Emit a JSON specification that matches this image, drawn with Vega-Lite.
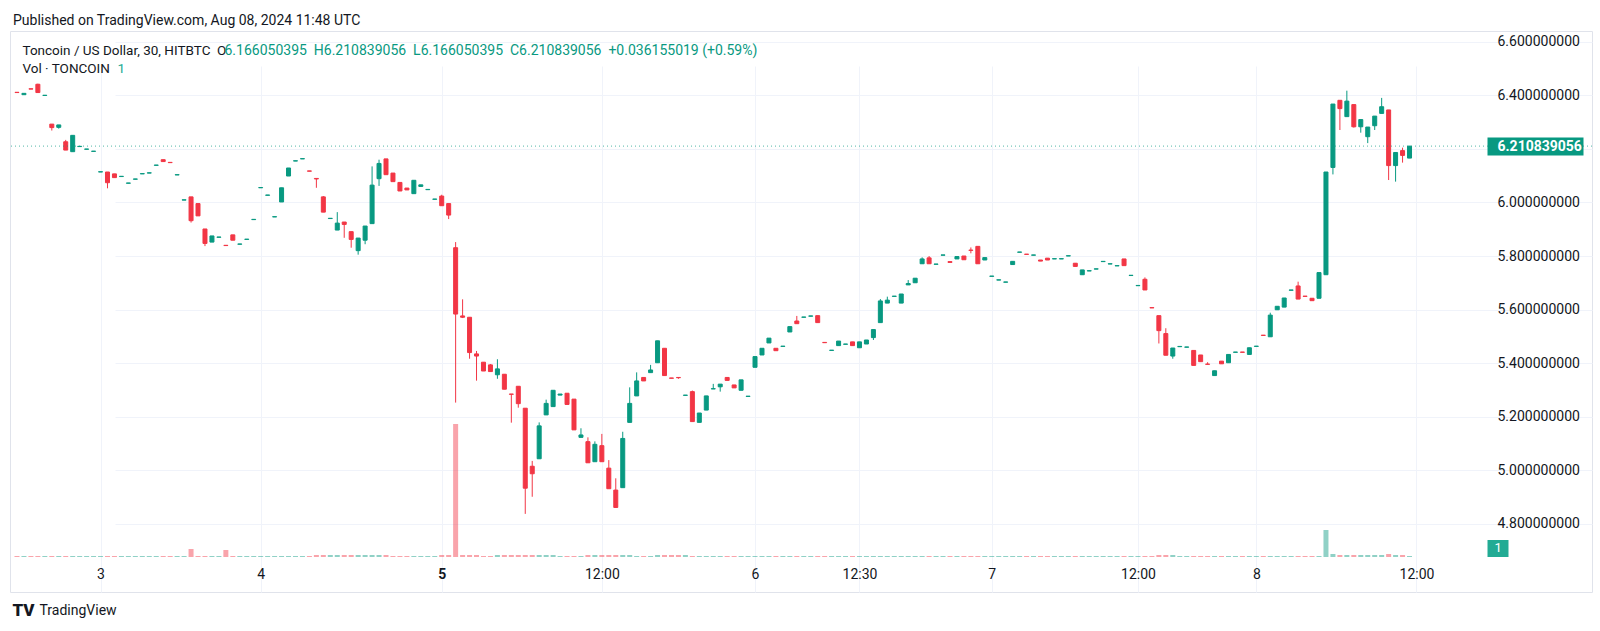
{
"$schema": "https://vega.github.io/schema/vega-lite/v6.json",
"width": 1582, "height": 561,
"autosize": {"type": "none"},
"padding": {"left": 10, "top": 31, "right": 8, "bottom": 39},
"background": "white",
"config": {"view": {"stroke": "#e0e3eb", "strokeWidth": 1}, "font": "Roboto"},
"title": {"text": "Published on TradingView.com, Aug 08, 2024 11:48 UTC", "anchor": "start", "frame": "group", "offset": 8, "dx": 3, "dy": 16, "baseline": "alphabetic", "font": "Roboto", "fontSize": 14, "fontWeight": "normal", "color": "#131722"},
"data": {"values": [
{"i":0,"o":6.412,"h":6.412,"l":6.411,"c":6.411,"v":1},
{"i":1,"o":6.403,"h":6.408,"l":6.403,"c":6.408,"v":1},
{"i":2,"o":6.425,"h":6.425,"l":6.424,"c":6.424,"v":1},
{"i":3,"o":6.442,"h":6.444,"l":6.411,"c":6.411,"v":1},
{"i":4,"o":6.400,"h":6.401,"l":6.400,"c":6.401,"v":1},
{"i":5,"o":6.293,"h":6.293,"l":6.269,"c":6.280,"v":1},
{"i":6,"o":6.281,"h":6.290,"l":6.276,"c":6.290,"v":1},
{"i":7,"o":6.227,"h":6.234,"l":6.196,"c":6.196,"v":1},
{"i":8,"o":6.190,"h":6.251,"l":6.190,"c":6.251,"v":1},
{"i":9,"o":6.209,"h":6.210,"l":6.209,"c":6.210,"v":1},
{"i":10,"o":6.199,"h":6.200,"l":6.199,"c":6.200,"v":1},
{"i":11,"o":6.191,"h":6.192,"l":6.191,"c":6.192,"v":1},
{"i":12,"o":6.114,"h":6.115,"l":6.114,"c":6.115,"v":1},
{"i":13,"o":6.114,"h":6.114,"l":6.053,"c":6.074,"v":1},
{"i":14,"o":6.107,"h":6.107,"l":6.093,"c":6.093,"v":1},
{"i":15,"o":6.097,"h":6.098,"l":6.097,"c":6.098,"v":1},
{"i":16,"o":6.072,"h":6.073,"l":6.072,"c":6.073,"v":1},
{"i":17,"o":6.087,"h":6.088,"l":6.087,"c":6.088,"v":1},
{"i":18,"o":6.107,"h":6.108,"l":6.107,"c":6.108,"v":1},
{"i":19,"o":6.110,"h":6.111,"l":6.110,"c":6.111,"v":1},
{"i":20,"o":6.139,"h":6.140,"l":6.139,"c":6.140,"v":1},
{"i":21,"o":6.160,"h":6.160,"l":6.153,"c":6.153,"v":1},
{"i":22,"o":6.150,"h":6.150,"l":6.149,"c":6.149,"v":1},
{"i":23,"o":6.103,"h":6.104,"l":6.103,"c":6.104,"v":1},
{"i":24,"o":6.009,"h":6.010,"l":6.009,"c":6.010,"v":1},
{"i":25,"o":6.021,"h":6.021,"l":5.925,"c":5.932,"v":8},
{"i":26,"o":5.996,"h":5.996,"l":5.950,"c":5.950,"v":1},
{"i":27,"o":5.901,"h":5.901,"l":5.837,"c":5.847,"v":1},
{"i":28,"o":5.852,"h":5.875,"l":5.852,"c":5.875,"v":1},
{"i":29,"o":5.870,"h":5.871,"l":5.870,"c":5.871,"v":1},
{"i":30,"o":5.840,"h":5.840,"l":5.839,"c":5.839,"v":7},
{"i":31,"o":5.879,"h":5.879,"l":5.859,"c":5.859,"v":1},
{"i":32,"o":5.844,"h":5.845,"l":5.844,"c":5.845,"v":1},
{"i":33,"o":5.862,"h":5.863,"l":5.862,"c":5.863,"v":1},
{"i":34,"o":5.936,"h":5.937,"l":5.936,"c":5.937,"v":1},
{"i":35,"o":6.055,"h":6.056,"l":6.055,"c":6.056,"v":1},
{"i":36,"o":6.027,"h":6.028,"l":6.027,"c":6.028,"v":1},
{"i":37,"o":5.946,"h":5.947,"l":5.946,"c":5.947,"v":1},
{"i":38,"o":6.002,"h":6.055,"l":6.002,"c":6.055,"v":1},
{"i":39,"o":6.099,"h":6.129,"l":6.099,"c":6.129,"v":1},
{"i":40,"o":6.155,"h":6.156,"l":6.155,"c":6.156,"v":1},
{"i":41,"o":6.163,"h":6.164,"l":6.163,"c":6.164,"v":1},
{"i":42,"o":6.118,"h":6.118,"l":6.117,"c":6.117,"v":1},
{"i":43,"o":6.090,"h":6.090,"l":6.055,"c":6.088,"v":2},
{"i":44,"o":6.021,"h":6.024,"l":5.964,"c":5.964,"v":2},
{"i":45,"o":5.940,"h":5.941,"l":5.940,"c":5.941,"v":2},
{"i":46,"o":5.897,"h":5.964,"l":5.897,"c":5.923,"v":2},
{"i":47,"o":5.927,"h":5.927,"l":5.868,"c":5.918,"v":2},
{"i":48,"o":5.891,"h":5.891,"l":5.831,"c":5.862,"v":2},
{"i":49,"o":5.820,"h":5.867,"l":5.805,"c":5.867,"v":2},
{"i":50,"o":5.859,"h":5.912,"l":5.844,"c":5.912,"v":2},
{"i":51,"o":5.921,"h":6.135,"l":5.921,"c":6.065,"v":2},
{"i":52,"o":6.089,"h":6.160,"l":6.062,"c":6.146,"v":2},
{"i":53,"o":6.163,"h":6.163,"l":6.104,"c":6.104,"v":2},
{"i":54,"o":6.110,"h":6.110,"l":6.078,"c":6.078,"v":1},
{"i":55,"o":6.075,"h":6.075,"l":6.043,"c":6.043,"v":1},
{"i":56,"o":6.054,"h":6.054,"l":6.047,"c":6.047,"v":1},
{"i":57,"o":6.033,"h":6.083,"l":6.033,"c":6.083,"v":1},
{"i":58,"o":6.060,"h":6.066,"l":6.060,"c":6.066,"v":1},
{"i":59,"o":6.048,"h":6.049,"l":6.048,"c":6.049,"v":1},
{"i":60,"o":6.012,"h":6.013,"l":6.012,"c":6.013,"v":1},
{"i":61,"o":6.024,"h":6.029,"l":5.988,"c":5.988,"v":2},
{"i":62,"o":5.996,"h":5.996,"l":5.938,"c":5.953,"v":2},
{"i":63,"o":5.831,"h":5.852,"l":5.252,"c":5.583,"v":133},
{"i":64,"o":5.576,"h":5.638,"l":5.568,"c":5.571,"v":2},
{"i":65,"o":5.571,"h":5.571,"l":5.416,"c":5.439,"v":2},
{"i":66,"o":5.434,"h":5.445,"l":5.334,"c":5.426,"v":2},
{"i":67,"o":5.403,"h":5.403,"l":5.370,"c":5.370,"v":1},
{"i":68,"o":5.393,"h":5.396,"l":5.368,"c":5.368,"v":1},
{"i":69,"o":5.356,"h":5.414,"l":5.341,"c":5.378,"v":2},
{"i":70,"o":5.358,"h":5.358,"l":5.302,"c":5.302,"v":2},
{"i":71,"o":5.284,"h":5.284,"l":5.177,"c":5.283,"v":2},
{"i":72,"o":5.313,"h":5.313,"l":5.233,"c":5.248,"v":2},
{"i":73,"o":5.231,"h":5.231,"l":4.836,"c":4.932,"v":2},
{"i":74,"o":5.014,"h":5.034,"l":4.900,"c":4.986,"v":2},
{"i":75,"o":5.042,"h":5.178,"l":5.042,"c":5.165,"v":2},
{"i":76,"o":5.206,"h":5.263,"l":5.206,"c":5.249,"v":2},
{"i":77,"o":5.237,"h":5.298,"l":5.237,"c":5.298,"v":2},
{"i":78,"o":5.280,"h":5.284,"l":5.280,"c":5.284,"v":1},
{"i":79,"o":5.287,"h":5.287,"l":5.245,"c":5.245,"v":1},
{"i":80,"o":5.265,"h":5.265,"l":5.150,"c":5.150,"v":1},
{"i":81,"o":5.122,"h":5.156,"l":5.122,"c":5.131,"v":1},
{"i":82,"o":5.106,"h":5.122,"l":5.027,"c":5.027,"v":2},
{"i":83,"o":5.031,"h":5.107,"l":5.031,"c":5.096,"v":2},
{"i":84,"o":5.091,"h":5.135,"l":5.031,"c":5.031,"v":2},
{"i":85,"o":5.007,"h":5.037,"l":4.930,"c":4.930,"v":2},
{"i":86,"o":4.925,"h":4.969,"l":4.860,"c":4.860,"v":2},
{"i":87,"o":4.934,"h":5.143,"l":4.934,"c":5.118,"v":2},
{"i":88,"o":5.178,"h":5.309,"l":5.178,"c":5.249,"v":2},
{"i":89,"o":5.277,"h":5.365,"l":5.277,"c":5.333,"v":1},
{"i":90,"o":5.346,"h":5.346,"l":5.333,"c":5.333,"v":1},
{"i":91,"o":5.364,"h":5.393,"l":5.364,"c":5.374,"v":1},
{"i":92,"o":5.401,"h":5.483,"l":5.401,"c":5.483,"v":2},
{"i":93,"o":5.455,"h":5.455,"l":5.353,"c":5.353,"v":2},
{"i":94,"o":5.344,"h":5.344,"l":5.343,"c":5.343,"v":2},
{"i":95,"o":5.346,"h":5.346,"l":5.341,"c":5.345,"v":2},
{"i":96,"o":5.279,"h":5.280,"l":5.279,"c":5.280,"v":2},
{"i":97,"o":5.293,"h":5.297,"l":5.181,"c":5.181,"v":1},
{"i":98,"o":5.178,"h":5.213,"l":5.178,"c":5.213,"v":1},
{"i":99,"o":5.224,"h":5.277,"l":5.224,"c":5.277,"v":1},
{"i":100,"o":5.303,"h":5.322,"l":5.303,"c":5.304,"v":1},
{"i":101,"o":5.311,"h":5.321,"l":5.293,"c":5.321,"v":1},
{"i":102,"o":5.346,"h":5.346,"l":5.335,"c":5.335,"v":1},
{"i":103,"o":5.318,"h":5.318,"l":5.307,"c":5.307,"v":1},
{"i":104,"o":5.298,"h":5.337,"l":5.298,"c":5.337,"v":1},
{"i":105,"o":5.275,"h":5.276,"l":5.275,"c":5.276,"v":1},
{"i":106,"o":5.384,"h":5.424,"l":5.384,"c":5.424,"v":1},
{"i":107,"o":5.430,"h":5.455,"l":5.430,"c":5.455,"v":1},
{"i":108,"o":5.475,"h":5.493,"l":5.475,"c":5.493,"v":1},
{"i":109,"o":5.455,"h":5.455,"l":5.446,"c":5.446,"v":1},
{"i":110,"o":5.462,"h":5.463,"l":5.462,"c":5.463,"v":1},
{"i":111,"o":5.516,"h":5.536,"l":5.516,"c":5.536,"v":1},
{"i":112,"o":5.557,"h":5.576,"l":5.547,"c":5.547,"v":1},
{"i":113,"o":5.571,"h":5.572,"l":5.571,"c":5.572,"v":1},
{"i":114,"o":5.575,"h":5.576,"l":5.575,"c":5.576,"v":1},
{"i":115,"o":5.577,"h":5.577,"l":5.551,"c":5.551,"v":1},
{"i":116,"o":5.477,"h":5.477,"l":5.476,"c":5.476,"v":1},
{"i":117,"o":5.447,"h":5.448,"l":5.447,"c":5.448,"v":1},
{"i":118,"o":5.465,"h":5.482,"l":5.465,"c":5.482,"v":1},
{"i":119,"o":5.470,"h":5.471,"l":5.470,"c":5.471,"v":1},
{"i":120,"o":5.479,"h":5.479,"l":5.465,"c":5.465,"v":1},
{"i":121,"o":5.457,"h":5.479,"l":5.457,"c":5.479,"v":1},
{"i":122,"o":5.471,"h":5.486,"l":5.471,"c":5.486,"v":1},
{"i":123,"o":5.495,"h":5.525,"l":5.486,"c":5.525,"v":1},
{"i":124,"o":5.551,"h":5.639,"l":5.551,"c":5.632,"v":1},
{"i":125,"o":5.624,"h":5.648,"l":5.624,"c":5.635,"v":1},
{"i":126,"o":5.649,"h":5.650,"l":5.649,"c":5.650,"v":1},
{"i":127,"o":5.624,"h":5.658,"l":5.624,"c":5.658,"v":1},
{"i":128,"o":5.692,"h":5.710,"l":5.692,"c":5.697,"v":1},
{"i":129,"o":5.700,"h":5.717,"l":5.700,"c":5.717,"v":1},
{"i":130,"o":5.771,"h":5.795,"l":5.771,"c":5.789,"v":1},
{"i":131,"o":5.793,"h":5.800,"l":5.771,"c":5.771,"v":1},
{"i":132,"o":5.769,"h":5.770,"l":5.769,"c":5.770,"v":1},
{"i":133,"o":5.803,"h":5.804,"l":5.803,"c":5.804,"v":1},
{"i":134,"o":5.779,"h":5.779,"l":5.776,"c":5.776,"v":1},
{"i":135,"o":5.789,"h":5.798,"l":5.789,"c":5.798,"v":1},
{"i":136,"o":5.800,"h":5.800,"l":5.786,"c":5.786,"v":1},
{"i":137,"o":5.822,"h":5.832,"l":5.810,"c":5.821,"v":1},
{"i":138,"o":5.836,"h":5.836,"l":5.771,"c":5.771,"v":1},
{"i":139,"o":5.785,"h":5.794,"l":5.785,"c":5.794,"v":1},
{"i":140,"o":5.724,"h":5.725,"l":5.724,"c":5.725,"v":1},
{"i":141,"o":5.710,"h":5.711,"l":5.710,"c":5.711,"v":1},
{"i":142,"o":5.702,"h":5.703,"l":5.702,"c":5.703,"v":1},
{"i":143,"o":5.768,"h":5.780,"l":5.768,"c":5.780,"v":1},
{"i":144,"o":5.814,"h":5.815,"l":5.814,"c":5.815,"v":1},
{"i":145,"o":5.807,"h":5.807,"l":5.806,"c":5.806,"v":1},
{"i":146,"o":5.803,"h":5.804,"l":5.803,"c":5.804,"v":1},
{"i":147,"o":5.785,"h":5.785,"l":5.781,"c":5.781,"v":1},
{"i":148,"o":5.792,"h":5.792,"l":5.785,"c":5.785,"v":1},
{"i":149,"o":5.789,"h":5.790,"l":5.789,"c":5.790,"v":1},
{"i":150,"o":5.789,"h":5.790,"l":5.789,"c":5.790,"v":1},
{"i":151,"o":5.800,"h":5.801,"l":5.800,"c":5.801,"v":1},
{"i":152,"o":5.773,"h":5.773,"l":5.761,"c":5.761,"v":1},
{"i":153,"o":5.730,"h":5.748,"l":5.730,"c":5.748,"v":1},
{"i":154,"o":5.744,"h":5.745,"l":5.744,"c":5.745,"v":1},
{"i":155,"o":5.751,"h":5.752,"l":5.751,"c":5.752,"v":1},
{"i":156,"o":5.779,"h":5.780,"l":5.779,"c":5.780,"v":1},
{"i":157,"o":5.770,"h":5.771,"l":5.770,"c":5.771,"v":1},
{"i":158,"o":5.763,"h":5.764,"l":5.763,"c":5.764,"v":1},
{"i":159,"o":5.789,"h":5.789,"l":5.764,"c":5.764,"v":1},
{"i":160,"o":5.727,"h":5.728,"l":5.727,"c":5.728,"v":1},
{"i":161,"o":5.689,"h":5.690,"l":5.689,"c":5.690,"v":1},
{"i":162,"o":5.713,"h":5.720,"l":5.673,"c":5.673,"v":1},
{"i":163,"o":5.607,"h":5.607,"l":5.606,"c":5.606,"v":1},
{"i":164,"o":5.577,"h":5.577,"l":5.473,"c":5.521,"v":2},
{"i":165,"o":5.510,"h":5.530,"l":5.429,"c":5.429,"v":2},
{"i":166,"o":5.426,"h":5.456,"l":5.416,"c":5.456,"v":2},
{"i":167,"o":5.461,"h":5.462,"l":5.461,"c":5.462,"v":1},
{"i":168,"o":5.459,"h":5.460,"l":5.459,"c":5.460,"v":1},
{"i":169,"o":5.447,"h":5.447,"l":5.391,"c":5.391,"v":1},
{"i":170,"o":5.430,"h":5.430,"l":5.405,"c":5.405,"v":1},
{"i":171,"o":5.396,"h":5.403,"l":5.395,"c":5.395,"v":1},
{"i":172,"o":5.353,"h":5.371,"l":5.353,"c":5.371,"v":1},
{"i":173,"o":5.407,"h":5.407,"l":5.397,"c":5.397,"v":1},
{"i":174,"o":5.401,"h":5.432,"l":5.401,"c":5.432,"v":1},
{"i":175,"o":5.440,"h":5.441,"l":5.440,"c":5.441,"v":1},
{"i":176,"o":5.441,"h":5.441,"l":5.440,"c":5.440,"v":1},
{"i":177,"o":5.432,"h":5.457,"l":5.432,"c":5.457,"v":1},
{"i":178,"o":5.462,"h":5.463,"l":5.462,"c":5.463,"v":1},
{"i":179,"o":5.504,"h":5.504,"l":5.503,"c":5.503,"v":1},
{"i":180,"o":5.498,"h":5.588,"l":5.498,"c":5.579,"v":1},
{"i":181,"o":5.599,"h":5.612,"l":5.599,"c":5.612,"v":1},
{"i":182,"o":5.609,"h":5.643,"l":5.609,"c":5.643,"v":1},
{"i":183,"o":5.672,"h":5.673,"l":5.672,"c":5.673,"v":1},
{"i":184,"o":5.688,"h":5.704,"l":5.639,"c":5.639,"v":1},
{"i":185,"o":5.650,"h":5.650,"l":5.649,"c":5.649,"v":1},
{"i":186,"o":5.642,"h":5.642,"l":5.633,"c":5.633,"v":1},
{"i":187,"o":5.642,"h":5.738,"l":5.642,"c":5.738,"v":1},
{"i":188,"o":5.730,"h":6.114,"l":5.730,"c":6.114,"v":27},
{"i":189,"o":6.131,"h":6.368,"l":6.105,"c":6.368,"v":3},
{"i":190,"o":6.382,"h":6.382,"l":6.271,"c":6.351,"v":2},
{"i":191,"o":6.321,"h":6.418,"l":6.321,"c":6.379,"v":2},
{"i":192,"o":6.366,"h":6.366,"l":6.280,"c":6.283,"v":2},
{"i":193,"o":6.283,"h":6.310,"l":6.261,"c":6.310,"v":2},
{"i":194,"o":6.246,"h":6.282,"l":6.222,"c":6.282,"v":2},
{"i":195,"o":6.287,"h":6.323,"l":6.271,"c":6.323,"v":2},
{"i":196,"o":6.333,"h":6.391,"l":6.333,"c":6.358,"v":2},
{"i":197,"o":6.346,"h":6.346,"l":6.084,"c":6.138,"v":3},
{"i":198,"o":6.138,"h":6.187,"l":6.078,"c":6.187,"v":2},
{"i":199,"o":6.194,"h":6.205,"l":6.149,"c":6.176,"v":2},
{"i":200,"o":6.166050395,"h":6.210839056,"l":6.166050395,"c":6.210839056,"v":1}
]},
"resolve": {"scale": {"y": "independent"}, "axis": {"x": "independent", "y": "independent"}},
"layer": [
{
"transform": [{"filter": "datum.c < datum.o"}],
"mark": {"type": "bar", "width": 5, "color": "#f23645", "opacity": 0.45},
"encoding": {
"x": {"field": "i", "type": "quantitative", "scale": {"domain": [-0.285, 210.41], "range": [0, 1477], "nice": false, "zero": false}, "axis": null},
"y": {"field": "v", "type": "quantitative", "scale": {"domain": [0, 526], "range": [526, 0], "nice": false, "zero": false},
"axis": {"orient": "left", "labels": false, "ticks": false, "domain": false, "grid": false, "title": "Vol · TONCOIN", "titleX": 12, "titleY": 37.5, "titleAngle": 0, "titleAlign": "left", "titleBaseline": "middle", "titleFont": "Roboto", "titleFontSize": 13.5, "titleFontWeight": "normal", "titleColor": "#131722"}},
"y2": {"datum": 0}
}
},
{
"transform": [{"filter": "datum.c >= datum.o"}],
"mark": {"type": "bar", "width": 5, "color": "#089981", "opacity": 0.45},
"encoding": {
"x": {"field": "i", "type": "quantitative", "scale": {"domain": [-0.285, 210.41], "range": [0, 1477], "nice": false, "zero": false}, "axis": null},
"y": {"field": "v", "type": "quantitative", "scale": {"domain": [0, 526], "range": [526, 0], "nice": false, "zero": false},
"axis": {"orient": "right", "offset": -105, "values": [9.5], "labelExpr": "'1'", "ticks": true, "tickSize": 21, "tickWidth": 17, "tickColor": "#22ab94", "domain": false, "grid": false, "labelColor": "#ffffff", "labelFont": "Roboto", "labelFontSize": 13, "labelPadding": -14, "zindex": 1, "title": "1", "titleX": -1370, "titleY": 37.5, "titleAngle": 0, "titleAlign": "left", "titleBaseline": "middle", "titleFont": "Roboto", "titleFontSize": 13.5, "titleFontWeight": "normal", "titleColor": "#22ab94"}},
"y2": {"datum": 0}
}
},
{
"mark": {"type": "rule", "strokeWidth": 1},
"encoding": {
"x": {"field": "i", "type": "quantitative", "scale": {"domain": [-0.285, 210.41], "range": [0, 1477], "nice": false, "zero": false},
"axis": {"orient": "bottom", "offset": -35, "values": [12, 35, 61, 84, 106, 121, 140, 161, 178, 201],
"labelExpr": "datum.value == 12 ? '3' : datum.value == 35 ? '4' : datum.value == 61 ? '5' : datum.value == 84 ? '12:00' : datum.value == 106 ? '6' : datum.value == 121 ? '12:30' : datum.value == 140 ? '7' : datum.value == 161 ? '12:00' : datum.value == 178 ? '8' : '12:00'",
"labelFontWeight": {"condition": {"test": "datum.value == 61", "value": "bold"}, "value": "normal"},
"grid": true, "gridColor": "#f0f3fa", "ticks": false, "domain": false, "labelFont": "Roboto", "labelFontSize": 14, "labelColor": "#131722", "labelPadding": 17, "labelBaseline": "middle", "labelOverlap": false, "labelFlush": false,
"title": "TradingView", "titleX": 29, "titleY": 53, "titleAlign": "left", "titleBaseline": "middle", "titleFont": "Roboto", "titleFontSize": 14, "titleFontWeight": "normal", "titleColor": "#131722"}},
"y": {"field": "l", "type": "quantitative", "scale": {"domain": [4.6748, 6.6411], "range": [526, 0], "nice": false, "zero": false},
"axis": {"orient": "right", "offset": -105, "values": [4.8, 5.0, 5.2, 5.4, 5.6, 5.8, 6.0, 6.2, 6.4, 6.6], "labelExpr": "datum.value == 6.2 ? '' : format(datum.value, '.9f')", "grid": true, "gridColor": "#f0f3fa", "ticks": false, "domain": false, "labelFont": "Roboto", "labelFontSize": 14, "labelColor": "#131722", "labelPadding": 10, "labelOverlap": false, "labelFlush": false,
"title": "6.166050395\u00a0\u00a0H6.210839056\u00a0\u00a0L6.166050395\u00a0\u00a0C6.210839056\u00a0\u00a0+0.036155019 (+0.59%)", "titleX": -1263, "titleY": 19, "titleAngle": 0, "titleAlign": "left", "titleBaseline": "middle", "titleFont": "Roboto", "titleFontSize": 14, "titleFontWeight": "normal", "titleColor": "#089981"}},
"y2": {"field": "h"},
"stroke": {"condition": {"test": "datum.c >= datum.o", "value": "#089981"}, "value": "#f23645"}
}
},
{
"mark": {"type": "bar", "width": 4, "strokeWidth": 1},
"encoding": {
"x": {"field": "i", "type": "quantitative", "scale": {"domain": [-0.285, 210.41], "range": [0, 1477], "nice": false, "zero": false},
"axis": {"orient": "top", "labels": false, "ticks": false, "domain": false, "grid": false, "title": "Toncoin / US Dollar, 30, HITBTC\u00a0\u00a0O", "titleX": 12, "titleY": 19, "titleAlign": "left", "titleBaseline": "middle", "titleFont": "Roboto", "titleFontSize": 13.5, "titleFontWeight": "normal", "titleColor": "#131722"}},
"y": {"field": "o", "type": "quantitative", "scale": {"domain": [4.6748, 6.6411], "range": [526, 0], "nice": false, "zero": false},
"axis": {"orient": "right", "offset": -105, "values": [6.210839056], "labelExpr": "'6.210839056'", "ticks": true, "tickSize": 96, "tickWidth": 18, "tickColor": "#089981", "domain": false, "grid": false, "labelColor": "#ffffff", "labelFont": "Roboto", "labelFontSize": 14, "labelFontWeight": "bold", "labelPadding": -86, "zindex": 1,
"title": "TV", "titleX": -1475, "titleY": 579, "titleAngle": 0, "titleAlign": "left", "titleBaseline": "middle", "titleFont": "Roboto", "titleFontSize": 17, "titleFontWeight": 900, "titleColor": "#131722"}},
"y2": {"field": "c"},
"fill": {"condition": {"test": "datum.c >= datum.o", "value": "#089981"}, "value": "#f23645"},
"stroke": {"condition": {"test": "datum.c >= datum.o", "value": "#089981"}, "value": "#f23645"}
}
},
{
"data": {"values": [{}]},
"mark": {"type": "rule", "strokeDash": [1, 3], "strokeWidth": 1, "color": "#089981", "opacity": 0.7},
"encoding": {
"y": {"datum": 6.210839056, "type": "quantitative", "scale": {"domain": [4.6748, 6.6411], "range": [526, 0], "nice": false, "zero": false}, "axis": null}
}
}
]
}
